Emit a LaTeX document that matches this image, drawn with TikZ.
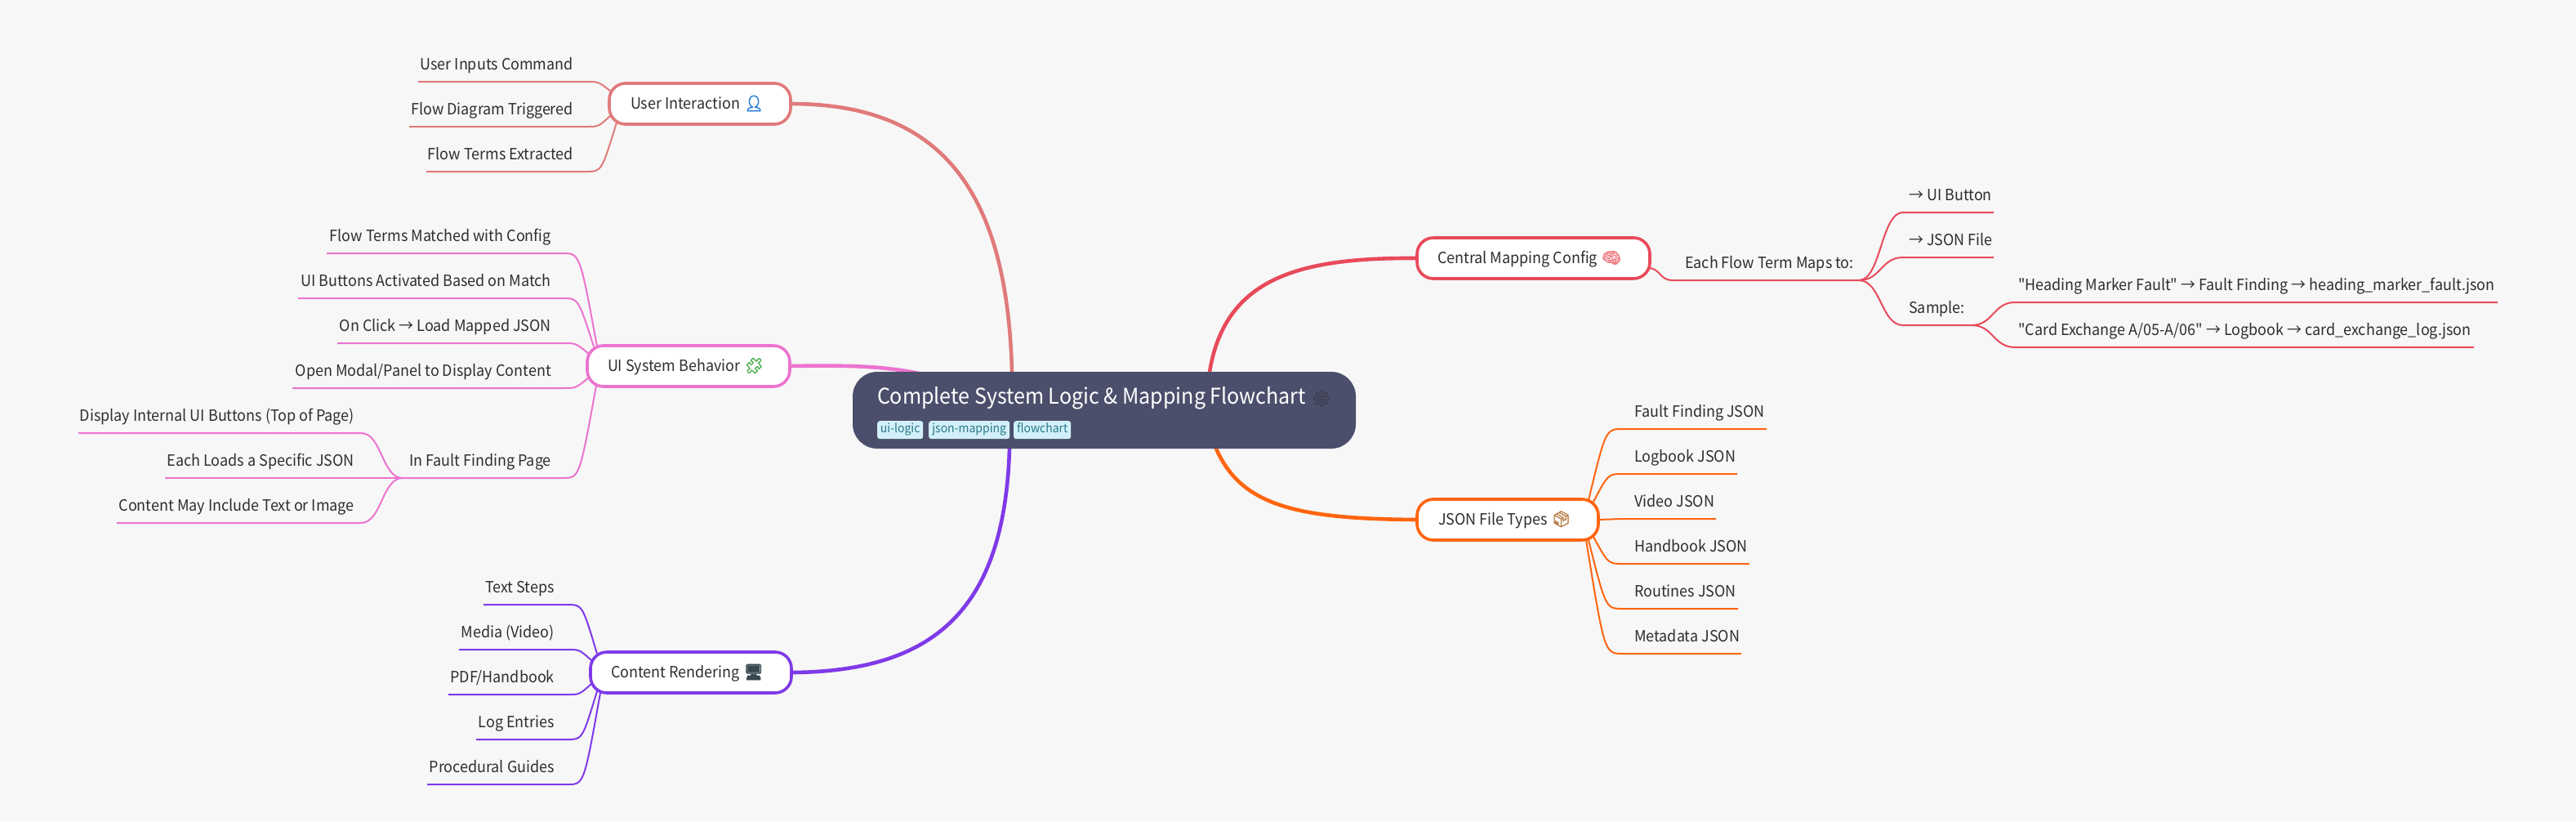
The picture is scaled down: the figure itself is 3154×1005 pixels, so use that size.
\documentclass[tikz,border=0pt]{standalone}
\usepackage{fontspec}
\usetikzlibrary{calc}
\setmainfont{Noto Sans CJK SC}
\newfontfamily\plainfont[FakeStretch=0.945]{Noto Sans CJK SC}
\newfontfamily\emj[FakeBold=2.5]{Noto Emoji}
\newfontfamily\emjthin[FakeBold=0.8]{Noto Emoji}
\definecolor{pagebg}{HTML}{F7F7F7}
\definecolor{rootfill}{HTML}{4C4F6B}
\definecolor{cUi}{HTML}{E07A7A}
\definecolor{cPink}{HTML}{EC74CF}
\definecolor{cPurple}{HTML}{7F3AE8}
\definecolor{cRed}{HTML}{E84A5A}
\definecolor{cOrange}{HTML}{FF6510}
\definecolor{ink}{HTML}{2E2E2E}
\definecolor{tagfill}{HTML}{D3F0F8}
\definecolor{taginkc}{HTML}{2A7A8C}
\pgfdeclarelayer{under}
\pgfsetlayers{under,main}
\tikzset{
  x=1pt,y=-1pt,
  leaflabel/.style={inner sep=0pt,text=ink,font=\plainfont\fontsize{19}{19}\selectfont},
  branchbox/.style={draw,line width=3.6pt,fill=white,rounded corners=20pt,inner ysep=0pt,
    text height=31pt,text depth=19pt,text=ink,font=\plainfont\fontsize{19}{19}\selectfont},
  rootbox/.style={fill=rootfill,rounded corners=30pt,inner ysep=0pt,
    text height=39pt,text depth=55pt,text=white,font=\plainfont\fontsize{26.5}{26.5}\selectfont},
  tagbox/.style={fill=tagfill,text=taginkc,rounded corners=3pt,inner sep=0pt,
    minimum height=22pt,font=\plainfont\fontsize{14.8}{14.8}\selectfont,text height=14pt,text depth=8pt},
  mainb/.style={line width=4.6pt,line cap=round},
  subb/.style={line width=2pt,line cap=butt},
}
% style, name, left, top, right, padding-left, contents
\newcommand\bnode[7]{%
  \pgfmathsetmacro\bw{#5-#3-#6}%
  \node[#1,anchor=north west,inner xsep=0pt,outer sep=0pt] (#2) at (#3,#4) {\hspace*{#6pt}\makebox[\bw pt][l]{#7}};%
}
% name, side(east/west), text x, line y, far x, bend x, text
\newcommand\leaf[7]{%
  \pgfmathsetmacro\by{#4-15}%
  \node[leaflabel,anchor=base #2] (#1) at (#3,\by) {#7};%
  \coordinate (#1-far) at (#5,#4);%
  \coordinate (#1-b) at (#6,#4);%
}
\newcommand\hook[3]{\draw[subb,#1] (#2) .. controls ($(#3-b)!.5!(#3-b-|#2)$) .. (#3-b) -- (#3-far);}
\newcommand\ess[3]{\draw[subb,#1] (#2) .. controls ($(#2)!.5!(#2-|#3-b)$) and ($(#3-b)!.5!(#3-b-|#2)$) .. (#3-b) -- (#3-far);}
\newcommand\emo[2]{{\emj\fontsize{19}{19}\selectfont\textcolor[HTML]{#1}{#2}}}
\begin{document}
\begin{tikzpicture}
\useasboundingbox (0,0) rectangle (3154,1005);
\begin{pgfonlayer}{under}
\fill[pagebg] (0,0) rectangle (3154,1005);
\end{pgfonlayer}

% root and tags
\bnode{rootbox}{root}{1044}{455}{1660}{30}{Complete System Logic \& Mapping Flowchart\hspace{7pt}{\emjthin\fontsize{19}{19}\selectfont\textcolor[HTML]{3A3C4C}{⚙}}}
\node[tagbox,minimum width=56pt,anchor=north west] (tagA) at (1074,515) {ui-logic};
\node[tagbox,minimum width=99pt,anchor=north west] (tagB) at (1137,515) {json-mapping};
\node[tagbox,minimum width=70pt,anchor=north west] (tagC) at (1241,515) {flowchart};

% branch boxes
\bnode{branchbox,draw=cUi}{ui}{746}{102}{968}{26}{User Interaction\hspace{5pt}\emo{1976D2}{👤}}
\bnode{branchbox,draw=cPink}{beh}{719}{423}{967}{25}{UI System Behavior\hspace{5pt}\emo{4CAF50}{🧩}}
\bnode{branchbox,draw=cPurple}{ren}{723}{798}{969}{25}{Content Rendering\hspace{5pt}\emo{37474F}{🖥}}
\bnode{branchbox,draw=cRed}{map}{1735}{291}{2020}{25}{Central Mapping Config\hspace{5pt}\emo{EF7F86}{🧠}}
\bnode{branchbox,draw=cOrange}{typ}{1735}{611}{1957}{26}{JSON File Types\hspace{5pt}\emo{B9804A}{📦}}

% leaves: user interaction
\leaf{a1}{east}{702}{100}{512}{718}{User Inputs Command}
\leaf{a2}{east}{702}{155}{501}{718}{Flow Diagram Triggered}
\leaf{a3}{east}{702}{210}{522}{718}{Flow Terms Extracted}
% leaves: behaviour
\leaf{b1}{east}{675}{310}{400}{689}{Flow Terms Matched with Config}
\leaf{b2}{east}{675}{365}{365}{689}{UI Buttons Activated Based on Match}
\leaf{b3}{east}{675}{420}{413}{689}{On Click → Load Mapped JSON}
\leaf{b4}{east}{675}{475}{358}{689}{Open Modal/Panel to Display Content}
\leaf{b5}{east}{675}{585}{493}{689}{In Fault Finding Page}
\leaf{c1}{east}{434}{530}{96}{442}{Display Internal UI Buttons (Top of Page)}
\leaf{c2}{east}{434}{585}{202}{442}{Each Loads a Specific JSON}
\leaf{c3}{east}{434}{640}{143}{442}{Content May Include Text or Image}
% leaves: rendering
\leaf{d1}{east}{679}{740}{592}{695}{Text Steps}
\leaf{d2}{east}{679}{795}{562}{695}{Media (Video)}
\leaf{d3}{east}{679}{850}{549}{695}{PDF/Handbook}
\leaf{d4}{east}{679}{905}{583}{695}{Log Entries}
\leaf{d5}{east}{679}{960}{523}{695}{Procedural Guides}
% leaves: mapping
\leaf{e0}{west}{2063}{343}{2276}{2047}{Each Flow Term Maps to:}
\leaf{e1}{west}{2337}{260}{2441}{2330}{→ UI Button}
\leaf{e2}{west}{2337}{315}{2441}{2330}{→ JSON File}
\leaf{e3}{west}{2337}{398}{2414}{2330}{Sample:}
\leaf{f1}{west}{2471}{370}{3058}{2467}{"Heading Marker Fault" → Fault Finding → heading\_marker\_fault.json}
\leaf{f2}{west}{2471}{425}{3029}{2467}{"Card Exchange A/05-A/06" → Logbook → card\_exchange\_log.json}
% leaves: file types
\leaf{g1}{west}{2001}{525}{2163}{1987}{Fault Finding JSON}
\leaf{g2}{west}{2001}{580}{2127}{1987}{Logbook JSON}
\leaf{g3}{west}{2001}{635}{2101}{1987}{Video JSON}
\leaf{g4}{west}{2001}{690}{2142}{1987}{Handbook JSON}
\leaf{g5}{west}{2001}{745}{2128}{1987}{Routines JSON}
\leaf{g6}{west}{2001}{800}{2132}{1987}{Metadata JSON}

% ports on the boxes
\coordinate (rUi) at ($(root.north west)+(195,0)$);
\coordinate (rBeh) at ($(root.north west)+(86,3)$);
\coordinate (rRen) at ($(root.south west)+(192,0)$);
\coordinate (rMap) at ($(root.north west)+(437,0)$);
\coordinate (rTyp) at ($(root.south west)+(445,0)$);
\coordinate (ua) at ($(ui.north west)+(2,10)$);
\coordinate (ub) at ($(ui.south west)+(2,-11)$);
\coordinate (uc) at ($(ui.south west)+(9,-2)$);
\coordinate (ba) at ($(beh.north west)+(12,1)$);
\coordinate (bb) at ($(beh.north west)+(8,1)$);
\coordinate (bc) at ($(beh.north west)+(3,11)$);
\coordinate (bd) at ($(beh.south west)+(3,-12)$);
\coordinate (be) at ($(beh.south west)+(11,-1)$);
\coordinate (ra) at ($(ren.north west)+(8,2)$);
\coordinate (rb) at ($(ren.north west)+(1,10)$);
\coordinate (rc) at ($(ren.south west)+(1,-11)$);
\coordinate (rd) at ($(ren.south west)+(8,-2)$);
\coordinate (re) at ($(ren.south west)+(12,0)$);
\coordinate (me) at ($(map.south east)+(-2,-13)$);
\coordinate (ta) at ($(typ.north east)+(-12,1)$);
\coordinate (tb) at ($(typ.north east)+(-6,3)$);
\coordinate (tc) at ($(typ.east)$);
\coordinate (td) at ($(typ.south east)+(-6,-4)$);
\coordinate (te) at ($(typ.south east)+(-12,0)$);
\coordinate (tf) at ($(typ.south east)+(-15,0)$);

\begin{pgfonlayer}{under}
% main branches
\draw[mainb,cUi] (ui.east) .. controls (1150,127) and (1233,230) .. (rUi);
\draw[mainb,cPink] (beh.east) .. controls (1030,447) and (1080,447) .. (rBeh);
\draw[mainb,cPurple] (ren.east) .. controls (1150,822) and (1230,740) .. (rRen);
\draw[mainb,cRed] (map.west) .. controls (1590,315) and (1500,340) .. (rMap);
\draw[mainb,cOrange] (typ.west) .. controls (1590,635) and (1520,620) .. (rTyp);
% user interaction
\hook{cUi}{ua}{a1}
\hook{cUi}{ub}{a2}
\hook{cUi}{uc}{a3}
% behaviour
\hook{cPink}{ba}{b1}
\hook{cPink}{bb}{b2}
\hook{cPink}{bc}{b3}
\hook{cPink}{bd}{b4}
\hook{cPink}{be}{b5}
\ess{cPink}{b5-far}{c1}
\ess{cPink}{b5-far}{c2}
\ess{cPink}{b5-far}{c3}
% rendering
\hook{cPurple}{ra}{d1}
\hook{cPurple}{rb}{d2}
\hook{cPurple}{rc}{d3}
\hook{cPurple}{rd}{d4}
\hook{cPurple}{re}{d5}
% mapping
\ess{cRed}{me}{e0}
\ess{cRed}{e0-far}{e1}
\ess{cRed}{e0-far}{e2}
\ess{cRed}{e0-far}{e3}
\ess{cRed}{e3-far}{f1}
\ess{cRed}{e3-far}{f2}
% file types
\hook{cOrange}{ta}{g1}
\hook{cOrange}{tb}{g2}
\hook{cOrange}{tc}{g3}
\hook{cOrange}{td}{g4}
\hook{cOrange}{te}{g5}
\hook{cOrange}{tf}{g6}
\end{pgfonlayer}
\end{tikzpicture}
\end{document}
